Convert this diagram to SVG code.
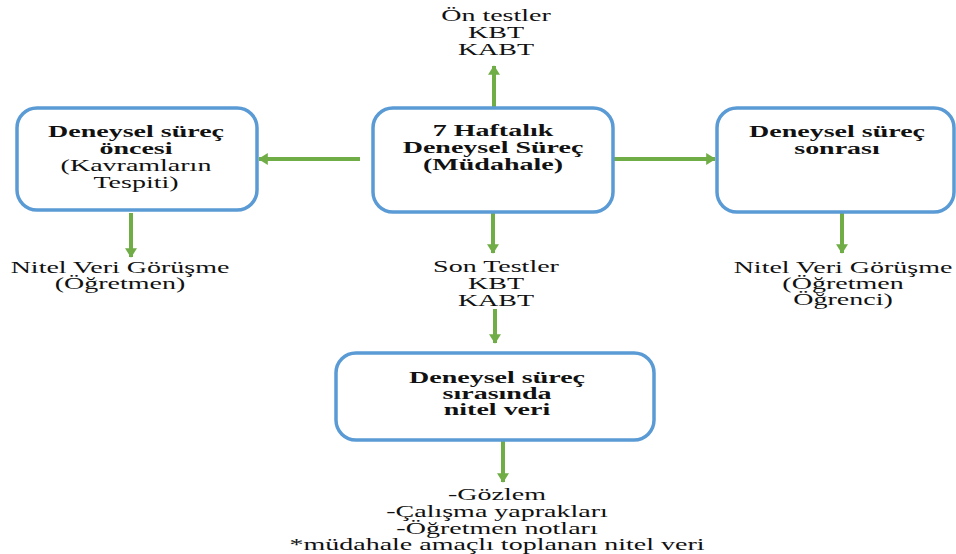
<svg xmlns="http://www.w3.org/2000/svg" width="956" height="554" viewBox="0 0 956 554">
<style>
.box{fill:#fff;stroke:#5B9BD5;stroke-width:3.5}
.t{font-family:"Liberation Serif","Tinos","Times New Roman","DejaVu Serif",serif;font-size:16px;fill:#111;text-anchor:middle}
.b{font-weight:bold}
.c{stroke:#70AD47;stroke-width:4;fill:none;marker-end:url(#ah)}
</style>
<defs>
<marker id="ah" markerUnits="userSpaceOnUse" markerWidth="16" markerHeight="12" refX="11" refY="7.5" orient="auto" viewBox="0 0 12 15">
<path d="M0,0 L12,7.5 L0,15 Z" fill="#70AD47"/>
</marker>
</defs>
<rect width="956" height="554" fill="#fff"/>
<g id="connectors">
<line class="c" x1="494" y1="107" x2="494" y2="66"/>
<line class="c" x1="360" y1="159" x2="259" y2="159"/>
<line class="c" x1="613" y1="159" x2="715" y2="159"/>
<line class="c" x1="131" y1="213" x2="131" y2="257"/>
<line class="c" x1="493" y1="213" x2="493" y2="253"/>
<line class="c" x1="842" y1="213" x2="842" y2="253"/>
<line class="c" x1="495" y1="309" x2="495" y2="343"/>
<line class="c" x1="503" y1="441" x2="503" y2="482"/>
</g>
<g id="center">
<rect class="box" x="373" y="108" width="240" height="104" rx="20"/>
<text class="t b" transform="translate(493 0) scale(1.75 1)"><tspan x="0" y="136">7 Haftalık</tspan><tspan x="0" y="153">Deneysel Süreç</tspan><tspan x="0" y="170">(Müdahale)</tspan></text>
</g>
<g id="before">
<rect class="box" x="17" y="108" width="240" height="102" rx="20"/>
<text class="t" transform="translate(136 0) scale(1.75 1)"><tspan class="b" x="0" y="137">Deneysel süreç</tspan><tspan class="b" x="0" y="154">öncesi</tspan><tspan x="0" y="171">(Kavramların</tspan><tspan x="0" y="188">Tespiti)</tspan></text>
</g>
<g id="after">
<rect class="box" x="717" y="108" width="237" height="104" rx="20"/>
<text class="t b" transform="translate(837 0) scale(1.75 1)"><tspan x="0" y="137">Deneysel süreç</tspan><tspan x="0" y="154">sonrası</tspan></text>
</g>
<g id="during">
<rect class="box" x="336" y="353" width="318" height="87" rx="20"/>
<text class="t b" transform="translate(497 0) scale(1.75 1)"><tspan x="0" y="383">Deneysel süreç</tspan><tspan x="0" y="399">sırasında</tspan><tspan x="0" y="415">nitel veri</tspan></text>
</g>
<g id="pretests">
<text class="t" transform="translate(496 0) scale(1.75 1)"><tspan x="0" y="21">Ön testler</tspan><tspan x="0" y="38">KBT</tspan><tspan x="0" y="55">KABT</tspan></text>
</g>
<g id="posttests">
<text class="t" transform="translate(496 0) scale(1.75 1)"><tspan x="0" y="272">Son Testler</tspan><tspan x="0" y="289">KBT</tspan><tspan x="0" y="306">KABT</tspan></text>
</g>
<g id="left-interview">
<text class="t" transform="translate(120 0) scale(1.75 1)"><tspan x="0" y="273">Nitel Veri Görüşme</tspan><tspan x="0" y="289">(Öğretmen)</tspan></text>
</g>
<g id="right-interview">
<text class="t" transform="translate(843 0) scale(1.75 1)"><tspan x="0" y="273">Nitel Veri Görüşme</tspan><tspan x="0" y="289">(Öğretmen</tspan><tspan x="0" y="305">Öğrenci)</tspan></text>
</g>
<g id="qualitative">
<text class="t" transform="translate(497 0) scale(1.75 1)"><tspan x="0" y="500">-Gözlem</tspan><tspan x="0" y="517">-Çalışma yaprakları</tspan><tspan x="0" y="534">-Öğretmen notları</tspan><tspan x="0" y="550">*müdahale amaçlı toplanan nitel veri</tspan></text>
</g>
</svg>
